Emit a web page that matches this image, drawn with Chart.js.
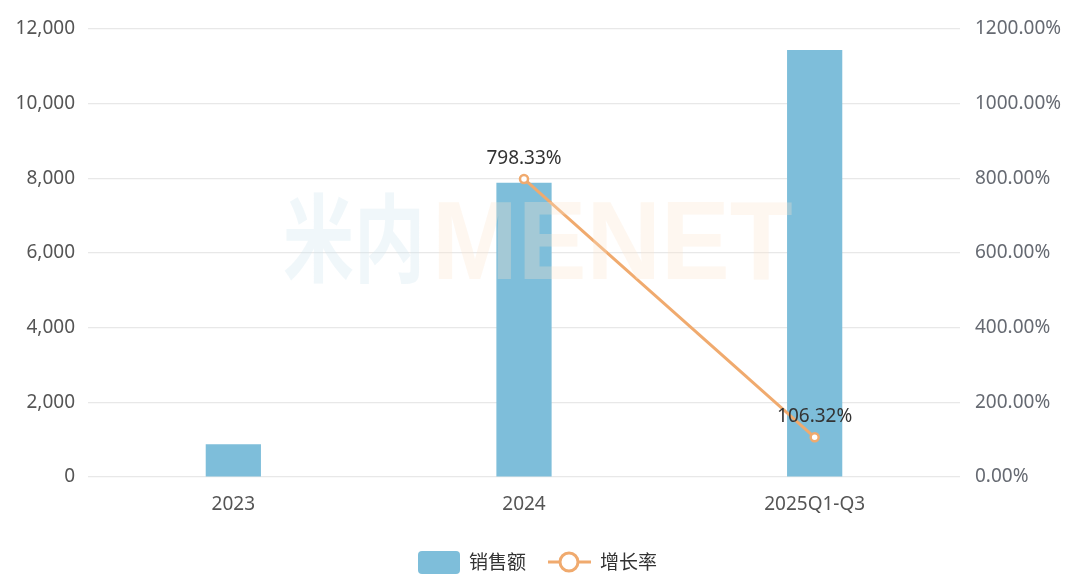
<!DOCTYPE html>
<html>
<head>
<meta charset="utf-8">
<script src="https://cdn.jsdelivr.net/npm/chart.js@4"></script>
<style>
  html, body { margin: 0; padding: 0; background: #fff; }
  #wrap { width: 1080px; height: 583px; }
</style>
</head>
<body>
<div id="wrap"><canvas id="chart-sales"></canvas></div>
<script>
const labels = ['2023', '2024', '2025Q1-Q3'];
const sales = [880, 7880, 11440];
const growth = [null, 798.33, 106.32];
const growthLabels = ['', '798.33%', '106.32%'];

const FONT = '"Noto Sans", "Noto Sans CJK SC", sans-serif';
const barColor = 'rgb(126, 190, 218)';
const lineColor = 'rgb(240, 170, 110)';

// faint watermark over the plot
const watermark = {
    id: 'watermark',
    afterDatasetsDraw(chart) {
        const ctx = chart.ctx;
        ctx.save();
        ctx.textBaseline = 'alphabetic';
        ctx.textAlign = 'left';
        ctx.save();
        ctx.translate(283, 278);
        ctx.scale(0.74, 1);
        ctx.font = 'bold 96px "Noto Sans CJK SC", sans-serif';
        ctx.fillStyle = 'rgba(205, 228, 238, 0.3)';
        ctx.fillText('米内', 0, -4);
        ctx.restore();
        ctx.save();
        ctx.translate(432, 279);
        ctx.scale(0.92, 1);
        ctx.font = 'bold 112px "Liberation Sans", sans-serif';
        ctx.fillStyle = 'rgba(252, 228, 205, 0.3)';
        ctx.fillText('MENET', 0, 0);
        ctx.restore();
        ctx.restore();
    }
};

// value labels above line points
const pointLabels = {
    id: 'pointLabels',
    afterDatasetsDraw(chart) {
        const ctx = chart.ctx;
        const meta = chart.getDatasetMeta(1);
        ctx.save();
        ctx.font = '19px ' + FONT;
        ctx.fillStyle = '#333';
        ctx.textAlign = 'center';
        ctx.textBaseline = 'bottom';
        meta.data.forEach((pt, i) => {
            if (growth[i] == null) return;
            ctx.fillText(growthLabels[i], pt.x, pt.y - 11);
        });
        ctx.restore();
    }
};

// legend drawn at the bottom
const bottomLegend = {
    id: 'bottomLegend',
    afterDraw(chart) {
        const ctx = chart.ctx;
        const y = 562;
        ctx.save();
        ctx.fillStyle = barColor;
        ctx.beginPath();
        ctx.roundRect(418, 551, 42, 23, 4);
        ctx.fill();
        ctx.font = '19px "Noto Sans CJK SC", sans-serif';
        ctx.fillStyle = '#333';
        ctx.textBaseline = 'middle';
        ctx.textAlign = 'left';
        ctx.fillText('销售额', 469, y);
        ctx.strokeStyle = lineColor;
        ctx.lineWidth = 3;
        ctx.beginPath();
        ctx.moveTo(548, y);
        ctx.lineTo(591, y);
        ctx.stroke();
        ctx.beginPath();
        ctx.arc(569, y, 9, 0, Math.PI * 2);
        ctx.fillStyle = '#fff';
        ctx.fill();
        ctx.stroke();
        ctx.fillStyle = '#333';
        ctx.fillText('增长率', 600, y);
        ctx.restore();
    }
};

const data = {
    labels: labels,
    datasets: [{
        type: 'bar',
        label: '销售额',
        data: sales,
        backgroundColor: barColor,
        yAxisID: 'y',
        barPercentage: 0.19,
        categoryPercentage: 1,
        order: 2
    }, {
        type: 'line',
        label: '增长率',
        data: growth,
        borderColor: lineColor,
        borderWidth: 3,
        pointRadius: 4,
        pointBorderWidth: 2.5,
        pointBackgroundColor: '#fff',
        pointBorderColor: lineColor,
        yAxisID: 'y1',
        order: 1
    }]
};

const config = {
    type: 'bar',
    data: data,
    options: {
        responsive: true,
        maintainAspectRatio: false,
        animation: false,
        layout: { padding: { top: 29, bottom: 66, left: 0, right: 0 } },
        plugins: {
            legend: { display: false },
            tooltip: { enabled: false }
        },
        scales: {
            x: {
                grid: { display: false },
                border: { display: false },
                ticks: { color: '#555', font: { family: FONT, size: 19 }, padding: 8 },
                afterFit(s) { s.height = 40; }
            },
            y: {
                position: 'left',
                min: 0,
                max: 12000,
                ticks: {
                    stepSize: 2000,
                    color: '#555',
                    font: { family: FONT, size: 19 },
                    padding: 13,
                    callback: v => v.toLocaleString('en-US')
                },
                grid: { color: '#e8e8e8', lineWidth: 1.2, drawTicks: false },
                border: { display: false },
                afterFit(s) { s.width = 88; }
            },
            y1: {
                position: 'right',
                min: 0,
                max: 1200,
                ticks: {
                    stepSize: 200,
                    color: '#666a72',
                    font: { family: FONT, size: 19 },
                    padding: 7,
                    callback: v => v.toFixed(2) + '%'
                },
                grid: { display: false },
                border: { display: false },
                afterFit(s) { s.width = 120; }
            }
        }
    },
    plugins: [watermark, pointLabels, bottomLegend]
};

const salesChart = new Chart(document.getElementById('chart-sales'), config);
</script>
</body>
</html>
